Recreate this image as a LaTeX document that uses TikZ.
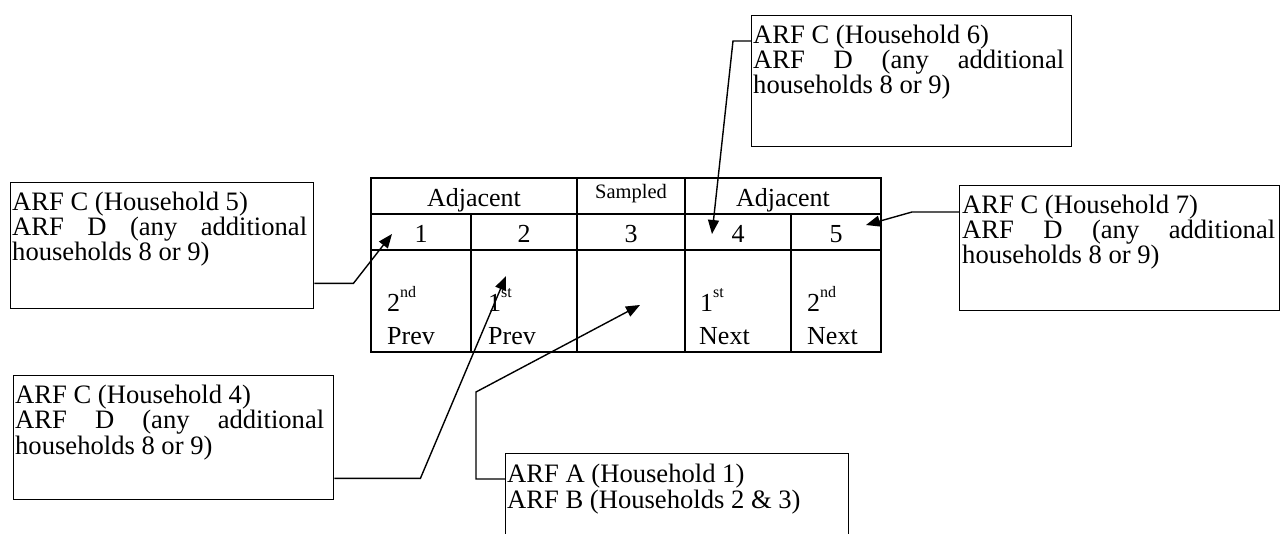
\documentclass[tikz,border=0pt]{standalone}
\usepackage{fontspec}
\setmainfont{Liberation Serif}
\usetikzlibrary{arrows.meta,calc}
\newcommand{\supx}[1]{\raisebox{14pt}{\fontsize{16}{16}\selectfont #1}}
\newcommand{\ArfCD}[2]{ARF C (Household #1)\\\makebox[#2pt][s]{ARF D (any additional}\\households 8 or 9)}
\begin{document}
\begin{tikzpicture}[x=1pt,y=-1pt,
  box/.style={draw,line width=1.4pt,anchor=north west,inner sep=0pt},
  boxtext/.style={anchor=base west,inner sep=0pt,align=left,font=\fontsize{26.6}{24}\selectfont},
  tbl/.style={line width=2pt},
  cell/.style={anchor=base,inner sep=0pt,font=\fontsize{26}{24}\selectfont},
  small/.style={anchor=base,inner sep=0pt,font=\fontsize{20.5}{20}\selectfont},
  lcell/.style={anchor=base west,inner sep=0pt,font=\fontsize{26}{24}\selectfont},
  conn/.style={line width=1.4pt,-{Triangle[length=14pt,width=11pt]}}]
\clip (0,0) rectangle (1280,534);
\fill[white] (0,0) rectangle (1280,534);
% table grid
\draw[tbl] (371,178) rectangle (881,352);
\draw[tbl] (371,214) -- (881,214);
\draw[tbl] (371,250) -- (881,250);
\draw[tbl] (577,178) -- (577,352);
\draw[tbl] (685,178) -- (685,352);
\draw[tbl] (471,214) -- (471,352);
\draw[tbl] (791,214) -- (791,352);
% table text
\node[cell] (adjL) at (474,207) {Adjacent};
\node[small] (samp) at (631,199) {Sampled};
\node[cell] (adjR) at (783,207) {Adjacent};
\node[cell] (n1) at (421,243) {1};
\node[cell] (n2) at (524,243) {2};
\node[cell] (n3) at (631,243) {3};
\node[cell] (n4) at (738,243) {4};
\node[cell] (n5) at (836,243) {5};
\node[lcell] (o1) at (387,312) {2\supx{nd}};
\node[lcell] (o2) at (488,312) {1\supx{st}};
\node[lcell] (o4) at (700,312) {1\supx{st}};
\node[lcell] (o5) at (807,312) {2\supx{nd}};
\node[lcell] (w1) at (387,345) {Prev};
\node[lcell] (w2) at (488,345) {Prev};
\node[lcell] (w4) at (699,345) {Next};
\node[lcell] (w5) at (807,345) {Next};
% arrow targets
\coordinate (tip1) at (392,234);
\coordinate (tip2) at (506,276);
\coordinate (tip3) at (640,305);
\coordinate (tip4) at (712,234);
\coordinate (tip5) at (866,225);
% boxes
\node[box,minimum width=303pt,minimum height=126pt] (b5) at (10,182) {};
\node[boxtext] (t5) at ($(b5.north west)+(2,79)$) {\ArfCD{5}{295}};
\node[box,minimum width=320pt,minimum height=124pt] (b4) at (13,375) {};
\node[boxtext] (t4) at ($(b4.north west)+(2,79)$) {\ArfCD{4}{309}};
\node[box,minimum width=320pt,minimum height=131pt] (b6) at (751,15) {};
\node[boxtext] (t6) at ($(b6.north west)+(2,79)$) {\ArfCD{6}{311}};
\node[box,minimum width=320pt,minimum height=125pt] (b7) at (959,185) {};
\node[boxtext] (t7) at ($(b7.north west)+(3,79)$) {\ArfCD{7}{313}};
\node[box,minimum width=343pt,minimum height=100pt] (bA) at (505,453) {};
\node[boxtext] (tA) at ($(bA.north west)+(2,55)$) {ARF A (Household 1)\\ARF B (Households 2 \& 3)};
% connectors
\draw[conn] ($(b5.south east)+(0,-26)$) -- ++(39,0) -- (tip1);
\draw[conn] ($(b4.south east)+(0,-22)$) -- ++(86,0) -- (tip2);
\draw[conn] ($(bA.north west)+(0,26)$) -- ++(-29,0) -- ++(0,-87) -- (tip3);
\draw[conn] ($(b6.north west)+(0,26)$) -- ++(-18,0) -- (tip4);
\draw[conn] ($(b7.north west)+(0,27)$) -- ++(-47,0) -- (tip5);
\end{tikzpicture}
\end{document}
